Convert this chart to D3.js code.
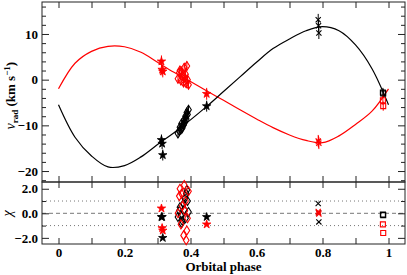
<!DOCTYPE html>
<html lang="en">
<head>
<meta charset="UTF-8">
<title>Radial velocity curve</title>
<script src="https://d3js.org/d3.v7.min.js"></script>
<style>
  body { margin: 0; background: #fff; }
  svg { display: block; }
  .tick line { stroke: #222; }
</style>
</head>
<body>
<div id="chart"></div>
<script>
// model curves (phase, km/s)
const modelPhase = [0, 0.05, 0.1, 0.15, 0.2, 0.25, 0.3, 0.35, 0.4, 0.45, 0.5, 0.55, 0.6, 0.65, 0.7, 0.75, 0.8, 0.85, 0.9, 0.95, 1.0];
const modelPrimary = [-5.5, -12.6, -16.7, -19.1, -18.8, -16.9, -14.2, -11.6, -8.8, -5.8, -2.6, 0.6, 3.8, 6.8, 8.9, 10.7, 11.6, 10.7, 7.6, 2.4, -5.5];
const modelSecondary = [-2.0, 3.6, 6.2, 7.3, 7.2, 6.0, 3.8, 1.6, -0.4, -2.5, -4.5, -6.6, -8.6, -10.5, -12.1, -13.3, -13.8, -12.3, -9.8, -6.9, -2.0];

// stars
const starPhase = [0.312, 0.314, 0.316, 0.449];
const starV1 = [-13.2, -14.0, -16.5, -5.8];
const starV2 = [4.0, 2.2, 1.8, -3.1];
const starChi1 = [-0.3, -0.3, -2.0, -0.3];
const starChi2 = [0.4, -1.2, -1.4, -0.9];

// diamonds
const diaPhase = [0.362, 0.366, 0.371, 0.368, 0.375, 0.379, 0.373, 0.383, 0.381, 0.387, 0.385, 0.391, 0.389, 0.394];
const diaV1 = [-11.8, -11.2, -10.9, -10.4, -10.6, -9.9, -9.6, -9.3, -8.8, -8.6, -8.0, -7.6, -7.2, -6.6];
const diaV2 = [0.2, 1.5, -0.2, 2.0, 0.8, -0.6, 1.8, 0.4, 2.6, -0.8, 1.2, 0.0, 3.0, -1.1];
const diaChi1 = [-0.3, 0.2, -0.2, 0.5, -0.6, 0.8, -0.8, 1.2, 0.3, 1.6, -0.4, 1.0, 1.9, 0.1];
const diaChi2 = [0.0, 1.4, -0.9, 2.0, 0.6, -1.8, 1.6, 0.2, 2.3, -2.2, 1.0, -0.4, -1.4, 1.8];

// crosses
const crossPhase = [0.787, 0.788, 0.789];
const crossV1 = [13.1, 11.8, 10.2];
const crossV2 = [-13.4, -13.6, -13.9];
const crossChi1 = [0.8, 0.05, -0.7];
const crossChi2 = [0.15, 0.05, -0.05];

// squares
const sqPhase = [0.983, 0.984];
const sqV1 = [-2.8, -3.0];
const sqV2 = [-4.5, -5.8];
const sqChi1 = [-0.1, -0.15];
const sqChi2 = [-0.9, -1.6];

const xTicks = [0, 0.1, 0.2, 0.3, 0.4, 0.5, 0.6, 0.7, 0.8, 0.9, 1.0];
const xLabels = [0, 0.2, 0.4, 0.6, 0.8, 1.0];
const vTicks = [-20, -10, 0, 10];
const chiTicks = [-2, 0, 2];

const FONT = '"Liberation Serif", "DejaVu Serif", "Times New Roman", serif';
const W = 407, H = 275;
const L = 42, R = 405, T = 2, M = 182, B = 244;

const svg = d3.select('#chart').append('svg').attr('width', W).attr('height', H);

const x = d3.scaleLinear().domain([-0.05, 1.05]).range([L, R]);
const yTop = d3.scaleLinear().domain([-22.4, 17]).range([M, T]);
const yBot = d3.scaleLinear().domain([-2.5, 2.55]).range([B, M]);

const fmtX = d => (d === 0 || d === 1) ? String(d) : d3.format('.1f')(d);

// reference lines in residual panel
[[-1, '1,3'], [1, '1,3'], [0, '4,3']].forEach(([v, dash]) => {
    svg.append('line')
        .attr('x1', L).attr('x2', R)
        .attr('y1', yBot(v)).attr('y2', yBot(v))
        .attr('stroke', '#777').attr('stroke-width', 1)
        .attr('stroke-dasharray', dash);
});

function axisGroup(axis, tx, ty) {
    const g = svg.append('g').attr('transform', `translate(${tx},${ty})`).call(axis);
    g.select('.domain').remove();
    g.attr('font-family', FONT).attr('font-size', 13).attr('font-weight', 'bold');
    g.selectAll('text').attr('fill', '#000');
    return g;
}

const minorV = d3.range(-22, 17, 2).filter(v => v % 10 !== 0);

// top panel axes
axisGroup(d3.axisLeft(yTop).tickValues(vTicks).tickSize(-7).tickPadding(4), L, 0);
axisGroup(d3.axisLeft(yTop).tickValues(minorV).tickSize(-4).tickFormat(''), L, 0);
axisGroup(d3.axisRight(yTop).tickValues(vTicks).tickSize(-7).tickFormat(''), R, 0);
axisGroup(d3.axisRight(yTop).tickValues(minorV).tickSize(-4).tickFormat(''), R, 0);
axisGroup(d3.axisTop(x).tickValues(xTicks).tickSize(-6).tickFormat(''), 0, T);
axisGroup(d3.axisTop(x).tickValues(xTicks).tickSize(6).tickFormat(''), 0, M);

// bottom panel axes
axisGroup(d3.axisLeft(yBot).tickValues(chiTicks).tickSize(-7).tickPadding(4), L, 0);
axisGroup(d3.axisLeft(yBot).tickValues([-1, 1]).tickSize(-4).tickFormat(''), L, 0);
axisGroup(d3.axisRight(yBot).tickValues(chiTicks).tickSize(-7).tickFormat(''), R, 0);
axisGroup(d3.axisRight(yBot).tickValues([-1, 1]).tickSize(-4).tickFormat(''), R, 0);
axisGroup(d3.axisBottom(x).tickValues(xTicks).tickSize(6).tickFormat(''), 0, M);
axisGroup(d3.axisTop(x).tickValues(xTicks).tickSize(6).tickFormat(''), 0, B);
axisGroup(d3.axisBottom(x).tickValues(xLabels).tickSize(0).tickPadding(4).tickFormat(fmtX), 0, B);

// frames
svg.append('rect').attr('x', L).attr('y', T).attr('width', R - L).attr('height', M - T)
    .attr('fill', 'none').attr('stroke', '#222');
svg.append('rect').attr('x', L).attr('y', M).attr('width', R - L).attr('height', B - M)
    .attr('fill', 'none').attr('stroke', '#222');

// model curves
const line = d3.line().x((d, i) => x(modelPhase[i])).y(d => yTop(d)).curve(d3.curveCatmullRom.alpha(0.5));
svg.append('path').datum(modelSecondary).attr('d', line)
    .attr('fill', 'none').attr('stroke', '#ff0000').attr('stroke-width', 1.2);
svg.append('path').datum(modelPrimary).attr('d', line)
    .attr('fill', 'none').attr('stroke', '#000').attr('stroke-width', 1.2);

// marker shapes
const starPath = d3.symbol().type(d3.symbolStar).size(22)();
const diamondPath = 'M0,-4.5L2.8,0L0,4.5L-2.8,0Z';
const squarePath = 'M-2.5,-2.5H2.5V2.5H-2.5Z';
const crossPath = 'M-2.6,-2.6L2.6,2.6M-2.6,2.6L2.6,-2.6';

function drawSet(phases, vals, yScale, shape, color, filled, err) {
    const g = svg.append('g');
    phases.forEach((p, i) => {
        const cx = x(p), cy = yScale(vals[i]);
        if (err) {
            g.append('line').attr('x1', cx).attr('x2', cx)
                .attr('y1', yScale(vals[i] - err)).attr('y2', yScale(vals[i] + err))
                .attr('stroke', color).attr('stroke-width', 1);
        }
        g.append('path').attr('d', shape)
            .attr('transform', `translate(${cx},${cy})`)
            .attr('fill', filled ? color : 'none')
            .attr('stroke', color).attr('stroke-width', filled ? 0.8 : 1.1);
    });
}

// radial velocities
drawSet(diaPhase, diaV1, yTop, diamondPath, '#000', false, 0.9);
drawSet(starPhase, starV1, yTop, starPath, '#000', true, 1.2);
drawSet(crossPhase, crossV1, yTop, crossPath, '#000', false, 1.3);
drawSet(sqPhase, sqV1, yTop, squarePath, '#000', false, 1.0);
drawSet(diaPhase, diaV2, yTop, diamondPath, '#ff0000', false, 1.0);
drawSet(starPhase, starV2, yTop, starPath, '#ff0000', true, 1.3);
drawSet(crossPhase, crossV2, yTop, crossPath, '#ff0000', false, 1.3);
drawSet(sqPhase, sqV2, yTop, squarePath, '#ff0000', false, 1.0);

// residuals
drawSet(diaPhase, diaChi1, yBot, diamondPath, '#000', false, 0);
drawSet(starPhase, starChi1, yBot, starPath, '#000', true, 0);
drawSet(crossPhase, crossChi1, yBot, crossPath, '#000', false, 0);
drawSet(sqPhase, sqChi1, yBot, squarePath, '#000', false, 0);
drawSet(diaPhase, diaChi2, yBot, diamondPath, '#ff0000', false, 0);
drawSet(starPhase, starChi2, yBot, starPath, '#ff0000', true, 0);
drawSet(crossPhase, crossChi2, yBot, crossPath, '#ff0000', false, 0);
drawSet(sqPhase, sqChi2, yBot, squarePath, '#ff0000', false, 0);

// axis labels
svg.append('text')
    .attr('x', (x(0) + x(1)) / 2).attr('y', 271)
    .attr('font-family', FONT).attr('font-size', 13).attr('font-weight', 'bold')
    .attr('text-anchor', 'middle').text('Orbital phase');

const yl = svg.append('text')
    .attr('font-family', FONT).attr('font-size', 13).attr('font-weight', 'bold')
    .attr('transform', `translate(15,${yTop(-3.5)}) rotate(-90)`)
    .attr('text-anchor', 'middle');
yl.append('tspan').attr('font-style', 'italic').attr('font-weight', 'normal').attr('font-size', 14).text('v');
yl.append('tspan').attr('font-size', 9).attr('dy', 3).text('rad');
yl.append('tspan').attr('dy', -3).text(' (km s');
yl.append('tspan').attr('font-size', 9).attr('dy', -5).text('\u22121');
yl.append('tspan').attr('dy', 5).text(')');

svg.append('text')
    .attr('font-family', FONT).attr('font-size', 14).attr('font-style', 'italic')
    .attr('transform', `translate(12,${yBot(0)}) rotate(-90)`)
    .attr('text-anchor', 'middle')
    .text('\u03c7');
</script>
</body>
</html>
